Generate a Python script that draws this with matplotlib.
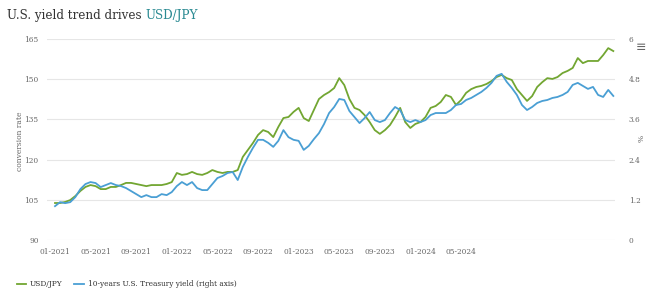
import numpy as np
import matplotlib
matplotlib.use("Agg")
import matplotlib.pyplot as plt
from matplotlib.lines import Line2D

# x axis is a category-like index; labels sit every 4 steps
tick_pos = [0, 4, 8, 12, 16, 20, 24, 28, 32, 36, 40]
tick_labels = ['01-2021', '05-2021', '09-2021', '01-2022', '05-2022', '09-2022',
               '01-2023', '05-2023', '09-2023', '01-2024', '05-2024']

# one value every half step
usdjpy = [103.8, 103.8, 104.2, 104.9, 106.4, 108.3, 109.8, 110.5, 110.1, 109.0,
          109.0, 109.8, 109.8, 110.5, 111.3, 111.3, 110.9, 110.5, 110.1, 110.5,
          110.5, 110.5, 110.9, 111.6, 115.0, 114.3, 114.6, 115.4, 114.6, 114.3,
          115.0, 116.1, 115.4, 115.0, 115.4, 115.4, 116.1, 121.0, 123.6, 126.2,
          129.2, 131.0, 130.3, 128.4, 132.2, 135.5, 135.9, 137.8, 139.3, 135.5,
          134.4, 138.5, 142.6, 144.1, 145.2, 146.7, 150.4, 147.8, 142.6, 139.3,
          138.5, 136.6, 134.0, 131.0, 129.6, 131.0, 132.9, 135.9, 139.3, 134.0,
          131.8, 133.3, 134.0, 135.9, 139.3, 140.0, 141.5, 144.1, 143.4, 140.4,
          142.2, 144.9, 146.3, 147.1, 147.5, 148.2, 149.3, 150.8, 151.6, 150.4,
          149.7, 146.3, 144.1, 141.9, 143.7, 147.1, 148.9, 150.4, 150.1, 150.8,
          152.3, 153.1, 154.2, 157.9, 156.0, 156.8, 156.8, 156.8, 159.0, 161.6,
          160.5]

us10y = [1.01, 1.13, 1.10, 1.13, 1.28, 1.52, 1.67, 1.73, 1.70, 1.58,
         1.64, 1.70, 1.64, 1.61, 1.55, 1.46, 1.37, 1.28, 1.34, 1.28,
         1.28, 1.37, 1.34, 1.43, 1.61, 1.73, 1.64, 1.73, 1.55, 1.49,
         1.49, 1.67, 1.85, 1.91, 2.00, 2.03, 1.79, 2.18, 2.48, 2.75,
         2.99, 2.99, 2.90, 2.78, 2.96, 3.28, 3.07, 2.99, 2.96, 2.69,
         2.81, 3.01, 3.19, 3.46, 3.79, 3.97, 4.21, 4.18, 3.85, 3.67,
         3.49, 3.64, 3.82, 3.58, 3.52, 3.58, 3.79, 3.97, 3.88, 3.58,
         3.52, 3.58, 3.52, 3.58, 3.73, 3.79, 3.79, 3.79, 3.88, 4.03,
         4.06, 4.18, 4.24, 4.33, 4.42, 4.54, 4.69, 4.90, 4.96, 4.72,
         4.54, 4.33, 4.03, 3.88, 3.97, 4.09, 4.15, 4.18, 4.24, 4.27,
         4.33, 4.42, 4.63, 4.69, 4.60, 4.51, 4.57, 4.33, 4.27, 4.48,
         4.30]

x = np.arange(len(usdjpy)) * 0.5

left_ticks = [90, 105, 120, 135, 150, 165]
right_ticks = [0, 1.2, 2.4, 3.6, 4.8, 6]

green = '#72a632'
blue = '#4a9fd4'
txt = '#666666'
font = 'DejaVu Serif'

fig = plt.figure(figsize=(6.59, 3.0), dpi=100)
fig.patch.set_facecolor('white')
ax = fig.add_axes([0.0713, 0.2, 0.862, 0.67])
ax2 = ax.twinx()

ax.plot(x, usdjpy, color=green, lw=1.3, zorder=3)
ax2.plot(x, us10y, color=blue, lw=1.3, zorder=4)

ax.set_xlim(-0.79, 55.17)
ax.set_ylim(90, 165)
ax2.set_ylim(0, 6)
ax.set_yticks(left_ticks)
ax2.set_yticks(right_ticks)
ax2.set_yticklabels(['0', '1.2', '2.4', '3.6', '4.8', '6'])
ax.set_xticks(tick_pos)
ax.set_xticklabels(tick_labels)

ax.grid(axis='y', color='#e6e6e6', lw=0.8)
ax.set_axisbelow(True)
for a in (ax, ax2):
    for s in a.spines.values():
        s.set_visible(False)
    a.tick_params(length=0, labelsize=5.3, labelcolor=txt)
    for lab in a.get_xticklabels() + a.get_yticklabels():
        lab.set_fontfamily(font)
ax.tick_params(axis='x', pad=6)
ax.tick_params(axis='y', pad=6)
ax2.tick_params(axis='y', pad=10)

fig.text(0.03, 0.53, 'conversion rate', fontsize=5.5, color=txt, family=font,
         rotation=90, ha='center', va='center')
fig.text(0.973, 0.54, '%', fontsize=5.5, color=txt, family=font,
         rotation=90, ha='center', va='center')

# title in two colours, second part placed right after the first
t1 = fig.text(0.011, 0.947, 'U.S. yield trend drives ', fontsize=8.6, color='#333333',
              family=font, va='center')
ax.annotate('USD/JPY', xy=(1, 0.5), xycoords=t1, va='center', ha='left',
            fontsize=8.6, color='#2a8a92', family=font, annotation_clip=False)
fig.text(0.973, 0.843, '\u2261', fontsize=9, color='#666666', ha='center', va='center')

handles = [Line2D([], [], color=green, lw=1.3),
           Line2D([], [], color=blue, lw=1.3)]
leg = fig.legend(handles, ['USD/JPY', '10-years U.S. Treasury yield (right axis)'],
                 loc='center left', bbox_to_anchor=(0.015, 0.053), ncol=2, frameon=False,
                 handlelength=1.3, handletextpad=0.5, columnspacing=1.6,
                 prop={'family': font, 'size': 5.3})
for t in leg.get_texts():
    t.set_color('#333333')

fig.savefig('out.png', dpi=100)
